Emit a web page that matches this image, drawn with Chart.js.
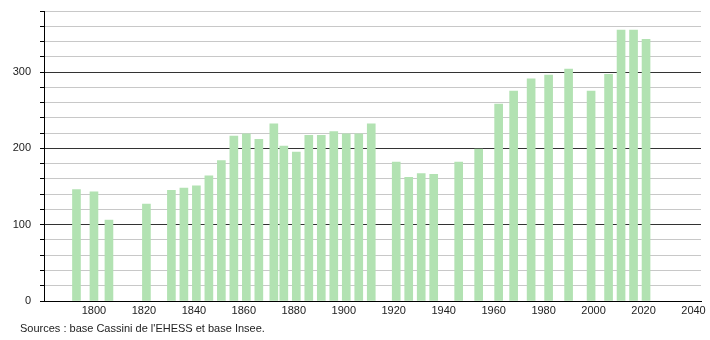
<!DOCTYPE html>
<html>
<head>
<meta charset="utf-8">
<script src="https://cdn.jsdelivr.net/npm/chart.js@4"></script>
<style>
  html, body { margin: 0; padding: 0; background: #fff; }
  #wrap { position: relative; width: 710px; height: 340px; }
  #source { position: absolute; left: 20px; top: 322px; font: 11px "Liberation Sans", Arial, sans-serif; color: #222; white-space: nowrap; }
</style>
</head>
<body>
<div id="wrap">
  <canvas id="c" width="710" height="340"></canvas>
  <div id="source">Sources : base Cassini de l'EHESS et base Insee.</div>
</div>
<script>
const years = [1793, 1800, 1806, 1821, 1831, 1836, 1841, 1846, 1851, 1856, 1861, 1866, 1872, 1876, 1881, 1886, 1891, 1896, 1901, 1906, 1911, 1921, 1926, 1931, 1936, 1946, 1954, 1962, 1968, 1975, 1982, 1990, 1999, 2006, 2011, 2016, 2021];
const population = [146, 143, 106, 127, 145, 148, 151, 164, 184, 216, 219, 212, 232, 203, 195, 217, 217, 222, 219, 219, 232, 182, 162, 167, 166, 182, 199, 258, 275, 291, 296, 304, 275, 297, 355, 355, 343];
const xTickLabels = [1800, 1820, 1840, 1860, 1880, 1900, 1920, 1940, 1960, 1980, 2000, 2020, 2040];
const yTickLabels = [0, 100, 200, 300];

const font = { family: '"Liberation Sans", Arial, sans-serif', size: 11 };

new Chart(document.getElementById('c'), {
  type: 'bar',
  data: {
    datasets: [{
      data: years.map((y, i) => ({ x: y, y: population[i] })),
      backgroundColor: '#b2e2b2',
      borderWidth: 0,
      barThickness: 8
    }]
  },
  options: {
    responsive: false,
    animation: false,
    events: [],
    layout: { padding: { top: 11, right: 9, bottom: 20, left: 0 } },
    plugins: { legend: { display: false }, tooltip: { enabled: false } },
    scales: {
      x: {
        type: 'linear',
        offset: false,
        min: 1780,
        max: 2043,
        afterBuildTicks: (s) => { s.ticks = xTickLabels.map(v => ({ value: v })); },
        afterFit: (s) => { s.height = 19; s.paddingLeft = 0; s.paddingRight = 0; },
        grid: { display: true, drawOnChartArea: false, drawTicks: false, offset: false },
        border: { display: true, color: '#000', width: 1 },
        ticks: { font: font, color: '#222', padding: 3, maxRotation: 0, autoSkip: false, callback: (v) => String(v) }
      },
      y: {
        min: 0,
        max: 380,
        afterBuildTicks: (s) => { const t = []; for (let v = 0; v <= 380; v += 20) t.push({ value: v }); s.ticks = t; },
        afterFit: (s) => { s.width = 44; s.paddingTop = 0; s.paddingBottom = 0; },
        grid: {
          color: (ctx) => (ctx.tick && ctx.tick.value % 100 === 0) ? '#333' : '#c8c8c8',
          tickColor: '#000',
          tickLength: 4,
          lineWidth: 1
        },
        border: { display: true, color: '#000', width: 1 },
        ticks: {
          font: font,
          color: '#222',
          padding: 9,
          autoSkip: false,
          callback: (v) => yTickLabels.includes(v) ? String(v) : ''
        }
      }
    }
  }
});
</script>
</body>
</html>
